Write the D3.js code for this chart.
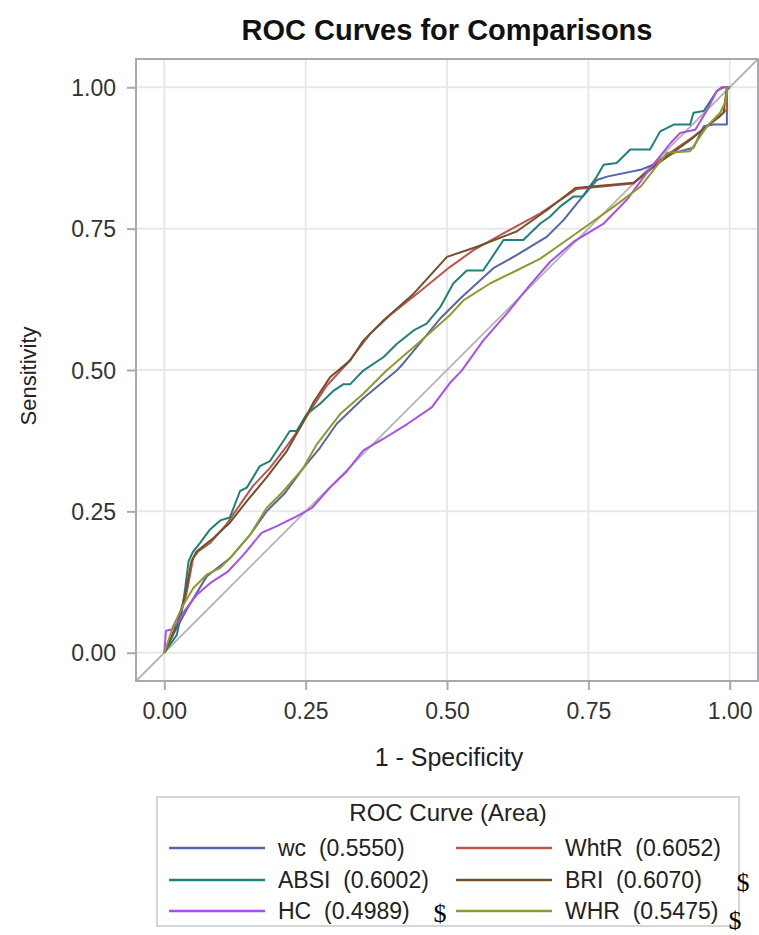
<!DOCTYPE html>
<html>
<head>
<meta charset="utf-8">
<script src="https://cdn.jsdelivr.net/npm/d3@7"></script>
<style>
    html, body { margin: 0; padding: 0; background: #fff; }
    text { font-family: "Liberation Sans", Arial, sans-serif; }
</style>
</head>
<body>
<svg id="chart" width="759" height="935"></svg>
<script>
// -- Data --
const seriesNames = ["wc", "WhtR", "ABSI", "BRI", "HC", "WHR"];
const seriesAreas = ["0.5550", "0.6052", "0.6002", "0.6070", "0.4989", "0.5475"];
const seriesColors = ["#5766a8", "#c0524a", "#20807a", "#72502e", "#a94ff0", "#8e9a2c"];
const tickValues = [0, 0.25, 0.5, 0.75, 1];

// [1 - specificity, sensitivity]
const wcPoints = [[0,0],[0.02,0.04],[0.043,0.082],[0.075,0.135],[0.116,0.167],[0.152,0.209],[0.181,0.25],[0.214,0.283],[0.246,0.327],[0.275,0.362],[0.305,0.405],[0.352,0.45],[0.411,0.499],[0.423,0.512],[0.488,0.591],[0.523,0.626],[0.582,0.68],[0.623,0.703],[0.677,0.736],[0.706,0.765],[0.735,0.801],[0.765,0.836],[0.783,0.842],[0.842,0.854],[0.865,0.863],[0.901,0.884],[0.936,0.893],[0.954,0.931],[0.971,0.934],[0.995,0.934],[0.995,0.995],[1,1]];
const whtrPoints = [[0,0],[0.025,0.055],[0.04,0.108],[0.051,0.167],[0.06,0.179],[0.081,0.194],[0.11,0.227],[0.134,0.262],[0.157,0.295],[0.187,0.327],[0.217,0.366],[0.24,0.398],[0.258,0.428],[0.287,0.472],[0.323,0.511],[0.364,0.564],[0.399,0.597],[0.447,0.635],[0.505,0.682],[0.547,0.712],[0.606,0.745],[0.665,0.777],[0.729,0.82],[0.83,0.83],[0.877,0.872],[0.936,0.913],[0.983,0.949],[0.995,0.961],[0.995,0.999],[1,1]];
const absiPoints = [[0,0],[0.022,0.031],[0.031,0.073],[0.037,0.114],[0.043,0.162],[0.051,0.179],[0.063,0.194],[0.081,0.218],[0.099,0.234],[0.116,0.239],[0.134,0.286],[0.146,0.292],[0.169,0.33],[0.187,0.339],[0.205,0.366],[0.222,0.392],[0.234,0.392],[0.252,0.422],[0.275,0.44],[0.299,0.463],[0.317,0.475],[0.329,0.475],[0.352,0.499],[0.388,0.523],[0.411,0.546],[0.441,0.57],[0.464,0.582],[0.488,0.611],[0.511,0.653],[0.535,0.676],[0.564,0.676],[0.6,0.73],[0.635,0.73],[0.665,0.759],[0.682,0.771],[0.7,0.789],[0.724,0.807],[0.74,0.807],[0.765,0.842],[0.777,0.863],[0.8,0.866],[0.824,0.89],[0.859,0.89],[0.877,0.922],[0.901,0.934],[0.93,0.934],[0.936,0.955],[0.954,0.958],[0.966,0.976],[0.977,0.993],[0.986,1],[1,1]];
const briPoints = [[0,0],[0.022,0.049],[0.037,0.102],[0.048,0.162],[0.057,0.179],[0.087,0.203],[0.116,0.23],[0.146,0.268],[0.181,0.31],[0.217,0.357],[0.24,0.398],[0.264,0.443],[0.293,0.487],[0.329,0.517],[0.352,0.552],[0.388,0.588],[0.441,0.635],[0.5,0.7],[0.553,0.718],[0.623,0.745],[0.677,0.783],[0.727,0.822],[0.83,0.831],[0.877,0.868],[0.93,0.907],[0.96,0.931],[0.989,0.955],[0.995,1],[1,1]];
const hcPoints = [[0,0],[0.003,0.039],[0.013,0.041],[0.025,0.055],[0.037,0.076],[0.057,0.102],[0.081,0.123],[0.113,0.144],[0.14,0.173],[0.172,0.212],[0.199,0.224],[0.234,0.241],[0.261,0.256],[0.293,0.292],[0.323,0.321],[0.352,0.358],[0.387,0.378],[0.429,0.404],[0.473,0.434],[0.506,0.478],[0.526,0.499],[0.564,0.552],[0.606,0.6],[0.644,0.647],[0.682,0.691],[0.724,0.727],[0.777,0.759],[0.818,0.801],[0.853,0.848],[0.895,0.901],[0.912,0.919],[0.939,0.925],[0.96,0.96],[0.977,0.993],[0.989,1],[1,1]];
const whrPoints = [[0,0],[0.015,0.045],[0.034,0.085],[0.051,0.114],[0.075,0.138],[0.099,0.15],[0.116,0.167],[0.152,0.209],[0.181,0.256],[0.211,0.286],[0.246,0.327],[0.27,0.369],[0.311,0.422],[0.352,0.458],[0.393,0.499],[0.45,0.548],[0.505,0.597],[0.529,0.623],[0.576,0.653],[0.623,0.676],[0.665,0.697],[0.712,0.73],[0.753,0.759],[0.795,0.789],[0.842,0.824],[0.889,0.884],[0.93,0.887],[0.96,0.931],[0.983,0.955],[0.992,0.973],[0.996,0.999],[1,1]];

const seriesPoints = [wcPoints, whtrPoints, absiPoints, briPoints, hcPoints, whrPoints];

const svg = d3.select("#chart");

// -- Frame & scales --
const frame = { left: 136, right: 758, top: 59, bottom: 681 };
const x = d3.scaleLinear().domain([-0.05, 1.05]).range([frame.left, frame.right]);
const y = d3.scaleLinear().domain([-0.05, 1.05]).range([frame.bottom, frame.top]);

function drawGrid(){
    const grid = svg.append("g").attr("stroke", "#e8e8e8").attr("stroke-width", 2);
    grid.selectAll(".vgrid").data(tickValues).enter().append("line")
        .attr("x1", d => x(d)).attr("x2", d => x(d))
        .attr("y1", frame.top).attr("y2", frame.bottom);
    grid.selectAll(".hgrid").data(tickValues).enter().append("line")
        .attr("y1", d => y(d)).attr("y2", d => y(d))
        .attr("x1", frame.left).attr("x2", frame.right);

    // Reference diagonal
    svg.append("line")
        .attr("x1", x(-0.05)).attr("y1", y(-0.05))
        .attr("x2", x(1.05)).attr("y2", y(1.05))
        .attr("stroke", "#b4b4b4").attr("stroke-width", 1.8);
}

function drawAxes(){
    const fmt = d3.format(".2f");

    const xAxis = svg.append("g")
        .attr("transform", `translate(0,${frame.bottom})`)
        .call(d3.axisBottom(x).tickValues(tickValues).tickFormat(fmt).tickSize(9).tickPadding(13));
    const yAxis = svg.append("g")
        .attr("transform", `translate(${frame.left},0)`)
        .call(d3.axisLeft(y).tickValues(tickValues).tickFormat(fmt).tickSize(9).tickPadding(11));

    [xAxis, yAxis].forEach(ax => {
        ax.select(".domain").remove();
        ax.selectAll(".tick line").attr("stroke", "#a6aaae").attr("stroke-width", 2);
        ax.selectAll(".tick text")
            .attr("fill", "#333")
            .style("font-size", "23px")
            .style("font-family", "'Liberation Sans', Arial, sans-serif");
    });
    yAxis.selectAll(".tick text").attr("dy", "0.35em");

    // Plot frame
    svg.append("rect")
        .attr("x", frame.left).attr("y", frame.top)
        .attr("width", frame.right - frame.left).attr("height", frame.bottom - frame.top)
        .attr("fill", "none").attr("stroke", "#a6aaae").attr("stroke-width", 2);

    svg.append("text")
        .attr("x", 449).attr("y", 766)
        .attr("text-anchor", "middle").attr("fill", "#222")
        .style("font-size", "25px")
        .text("1 - Specificity");

    svg.append("text")
        .attr("transform", `translate(36,376) rotate(-90)`)
        .attr("text-anchor", "middle").attr("fill", "#222")
        .style("font-size", "22px")
        .text("Sensitivity");

    svg.append("text")
        .attr("x", 447).attr("y", 40)
        .attr("text-anchor", "middle").attr("fill", "#111")
        .style("font-size", "29px").style("font-weight", "bold")
        .text("ROC Curves for Comparisons");
}

function drawCurves(){
    const line = d3.line().x(d => x(d[0])).y(d => y(d[1]));
    svg.append("g").selectAll("path").data(seriesPoints).enter().append("path")
        .attr("d", line)
        .attr("fill", "none")
        .attr("stroke", (d, i) => seriesColors[i])
        .attr("stroke-width", 2)
        .attr("stroke-linejoin", "round");
}

function drawLegend(){
    const box = { left: 157, right: 739, top: 797, bottom: 926 };
    const legend = svg.append("g");
    legend.append("rect")
        .attr("x", box.left).attr("y", box.top)
        .attr("width", box.right - box.left).attr("height", box.bottom - box.top)
        .attr("fill", "none").attr("stroke", "#c8c8c8").attr("stroke-width", 1.5);

    legend.append("text")
        .attr("x", (box.left + box.right) / 2).attr("y", 821)
        .attr("text-anchor", "middle").attr("fill", "#222")
        .style("font-size", "24px")
        .text("ROC Curve (Area)");

    const colX = [169, 456];
    const rowY = [848, 880, 911];
    const entries = seriesNames.map((name, i) => ({ name, area: seriesAreas[i], color: seriesColors[i], col: i % 2, row: Math.floor(i / 2) }));

    const items = legend.selectAll(".item").data(entries).enter().append("g")
        .attr("transform", d => `translate(${colX[d.col]},${rowY[d.row]})`);
    items.append("line")
        .attr("x1", 0).attr("x2", 96)
        .attr("stroke", d => d.color).attr("stroke-width", 2.5);
    items.append("text")
        .attr("x", 109).attr("dy", "0.36em")
        .attr("fill", "#222")
        .style("font-size", "23px")
        .style("white-space", "pre")
        .text(d => `${d.name}  (${d.area})`);

    // Stray currency marks present in the source image
    const marks = [[440, 922], [743, 891], [735, 929]];
    legend.selectAll(".mark").data(marks).enter().append("text")
        .attr("x", d => d[0]).attr("y", d => d[1])
        .attr("text-anchor", "middle").attr("fill", "#000")
        .style("font-family", "'Liberation Serif', 'Times New Roman', serif")
        .style("font-size", "26px")
        .text("$");
}

// -- Initial Load --
drawGrid();
drawCurves();
drawAxes();
drawLegend();
</script>
</body>
</html>
